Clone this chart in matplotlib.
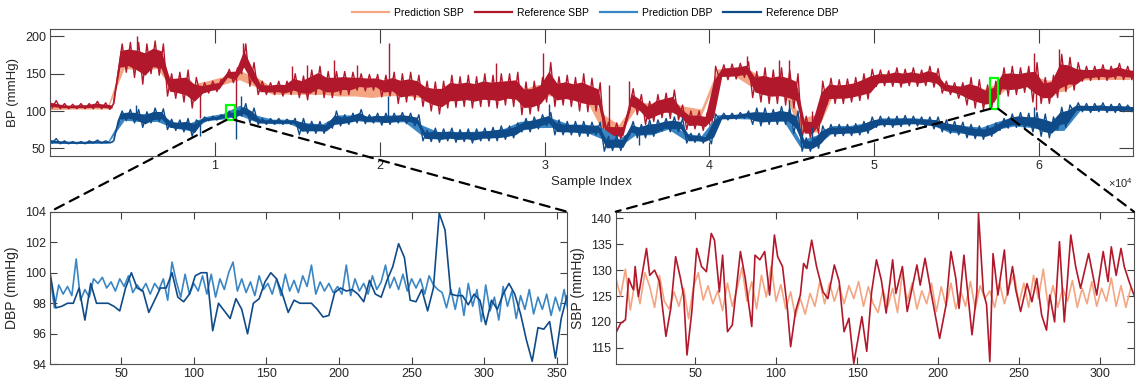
import numpy as np
import matplotlib.pyplot as plt
from matplotlib.lines import Line2D
from matplotlib.patches import Rectangle, ConnectionPatch

plt.rcParams['font.family'] = ['Liberation Sans', 'DejaVu Sans']
plt.rcParams['mathtext.fontset'] = 'custom'
plt.rcParams['mathtext.rm'] = 'Liberation Sans'

C_PRED_SBP = '#f4a582'
C_REF_SBP = '#b2182b'
C_PRED_DBP = '#3a86c4'
C_REF_DBP = '#104b89'

# ---- whole record: low / high of each trace per 500-sample column ----
COL = 500
ref_sbp_lo = [104, 103, 103, 103, 103, 103, 103, 102, 150, 152, 145, 136, 150, 148, 120, 117,
              112, 104, 120, 124, 126, 142, 138, 150, 133, 122, 122, 122, 120, 122, 118, 115,
              122, 118, 118, 122, 122, 128, 127, 128, 119, 120, 110, 112, 115, 106, 100, 96,
              104, 105, 106, 104, 106, 106, 104, 108, 106, 95, 96, 100, 112, 106, 108, 106,
              100, 99, 100, 60, 61, 62, 100, 95, 82, 86, 91, 90, 88, 75, 76, 74,
              72, 142, 142, 143, 145, 118, 112, 110, 110, 108, 104, 64, 64, 70, 109, 110,
              110, 112, 114, 116, 133, 134, 133, 132, 134, 133, 134, 132, 124, 122, 117, 108,
              104, 102, 104, 122, 120, 122, 125, 112, 110, 110, 118, 126, 128, 140, 141, 142,
              141, 143, 142, 142]
ref_sbp_hi = [114, 110, 109, 110, 110, 113, 111, 110, 190, 192, 192, 190, 194, 190, 150, 152,
              155, 145, 138, 140, 142, 156, 158, 190, 165, 140, 138, 140, 140, 150, 147, 155,
              160, 153, 153, 153, 152, 150, 149, 149, 148, 152, 150, 152, 148, 140, 139, 140,
              148, 146, 148, 146, 150, 148, 150, 150, 152, 139, 140, 145, 165, 146, 148, 145,
              150, 144, 138, 85, 84, 84, 130, 122, 113, 122, 124, 128, 108, 100, 100, 98,
              160, 162, 163, 164, 166, 153, 158, 155, 158, 155, 150, 93, 92, 140, 144, 142,
              143, 145, 150, 156, 155, 154, 158, 156, 158, 155, 160, 157, 140, 138, 138, 145,
              142, 135, 140, 158, 160, 158, 160, 165, 145, 148, 176, 172, 165, 160, 160, 162,
              160, 164, 160, 158]
ref_dbp_lo = [57, 56, 56, 56, 56, 57, 57, 57, 86, 87, 84, 78, 84, 86, 75, 74,
              72, 66, 84, 87, 88, 90, 90, 93, 84, 82, 82, 82, 82, 82, 68, 70,
              70, 70, 77, 80, 82, 84, 83, 84, 81, 82, 84, 83, 80, 60, 59, 58,
              60, 58, 59, 57, 60, 60, 60, 62, 64, 72, 72, 76, 80, 68, 68, 68,
              66, 66, 68, 46, 47, 47, 68, 64, 64, 66, 73, 72, 72, 57, 58, 57,
              56, 88, 88, 89, 90, 82, 80, 82, 82, 82, 70, 46, 46, 50, 66, 66,
              67, 67, 68, 70, 78, 79, 78, 79, 80, 80, 78, 76, 72, 70, 68, 64,
              63, 62, 66, 74, 77, 78, 76, 72, 66, 64, 75, 78, 98, 99, 98, 99,
              98, 98, 99, 99]
ref_dbp_hi = [63, 60, 59, 59, 60, 61, 60, 60, 100, 102, 102, 99, 104, 103, 89, 88,
              90, 88, 92, 93, 95, 100, 101, 110, 104, 90, 90, 90, 89, 90, 90, 86,
              86, 85, 100, 95, 97, 102, 95, 97, 97, 97, 98, 97, 95, 74, 77, 76,
              77, 75, 76, 76, 77, 78, 80, 80, 84, 90, 92, 95, 98, 88, 86, 86,
              86, 85, 85, 66, 67, 66, 86, 82, 88, 88, 90, 92, 90, 70, 70, 68,
              96, 97, 97, 98, 100, 104, 104, 102, 106, 104, 100, 64, 64, 80, 82, 82,
              82, 83, 86, 92, 93, 92, 93, 94, 93, 92, 92, 92, 88, 86, 85, 82,
              80, 80, 84, 90, 96, 98, 97, 98, 96, 92, 105, 108, 111, 110, 110, 111,
              109, 110, 108, 108]

# prediction traces, coarser 1000-sample columns
PCOL = 1000
pred_sbp_lo = [101, 102, 102, 102, 155, 152, 155, 124, 118, 128, 134, 140, 130, 121, 121, 120,
               120, 118, 118, 116, 118, 118, 116, 115, 114, 115, 116, 116, 112, 116, 118, 116,
               114, 70, 66, 100, 98, 100, 94, 92, 146, 146, 130, 124, 124, 70, 68, 120,
               120, 124, 140, 140, 140, 140, 125, 122, 116, 118, 136, 136, 122, 124, 140, 141,
               141, 141]
pred_sbp_hi = [108, 108, 108, 108, 175, 172, 172, 140, 138, 142, 148, 156, 148, 133, 134, 138,
               140, 136, 136, 134, 140, 138, 132, 130, 132, 134, 134, 136, 130, 138, 140, 136,
               132, 100, 84, 114, 112, 114, 108, 104, 158, 158, 158, 144, 146, 92, 100, 136,
               137, 142, 152, 152, 153, 152, 135, 134, 130, 140, 150, 150, 144, 146, 152, 152,
               152, 152]
pred_dbp_lo = [56, 56, 56, 56, 86, 84, 84, 76, 72, 86, 88, 92, 84, 82, 82, 72,
               72, 86, 86, 84, 84, 84, 66, 62, 62, 62, 62, 64, 72, 76, 76, 70,
               70, 60, 50, 66, 66, 74, 60, 58, 88, 89, 88, 84, 84, 50, 52, 70,
               70, 72, 82, 82, 82, 80, 70, 68, 66, 74, 78, 76, 72, 72, 100, 100,
               100, 100]
pred_dbp_hi = [61, 60, 60, 60, 100, 98, 100, 86, 86, 94, 98, 110, 96, 90, 90, 86,
               84, 96, 96, 94, 96, 96, 84, 74, 74, 74, 75, 78, 88, 90, 92, 84,
               84, 80, 64, 80, 84, 88, 72, 68, 96, 96, 98, 100, 102, 62, 70, 82,
               82, 86, 92, 92, 92, 90, 84, 82, 80, 88, 94, 92, 86, 88, 108, 108,
               108, 108]

# isolated single-beat excursions
sbp_spike_x = [5300, 9070, 11300, 11700, 14700, 15600, 17200, 18600, 20550, 27070,
               29900, 33900, 35100, 42300, 44200, 44800, 46200, 59700, 59800, 61200]
sbp_spike_y = [200, 91, 93, 191, 160, 162, 169, 162, 191, 164,
               178, 135, 140, 174, 169, 169, 100, 178, 102, 183]
dbp_spike_x = [5200, 9070, 11300, 11600, 20520, 30250, 35700, 44800, 46200, 59700]
dbp_spike_y = [108, 66, 62, 120, 120, 110, 55, 115, 78, 106]

X_END = 65700
win_dbp = (10700, 11200, 88, 108)     # x0, x1, y0, y1 of the highlighted boxes
win_sbp = (57040, 57520, 103, 144)

# ---- zoomed window 1: DBP ----
N_DBP = 357
dbp_ref = [100.0, 97.7, 97.8, 98.0, 98.0, 99.0, 96.9, 99.3, 98.0, 98.0, 98.0, 97.8, 97.5, 99.0,
           100.0, 99.0, 98.8, 97.4, 98.2, 99.0, 99.0, 100.0, 98.4, 98.1, 98.6, 99.8, 100.0, 100.0,
           96.2, 98.0, 97.5, 97.0, 98.3, 97.6, 96.0, 98.0, 98.3, 99.4, 100.0, 99.6, 98.6, 97.4,
           98.2, 98.0, 98.0, 98.0, 97.6, 97.1, 97.2, 98.7, 99.0, 98.8, 98.9, 98.6, 98.1, 99.5,
           98.6, 98.4, 99.5, 100.4, 101.9, 101.0, 98.2, 98.1, 98.9, 97.5, 99.0, 103.9, 102.8, 98.6,
           98.5, 98.5, 97.9, 98.6, 98.2, 96.6, 98.2, 97.6, 98.6, 99.3, 98.6, 97.3, 95.6, 94.2,
           96.4, 96.3, 96.8, 94.4, 97.0, 98.5]
dbp_pred = [99.8, 97.7, 99.2, 98.6, 99.1, 98.5, 100.9, 98.2, 98.9, 98.4, 99.6, 99.3, 99.7, 99.0,
            99.4, 98.8, 99.6, 99.1, 99.8, 98.7, 99.2, 98.8, 99.3, 98.6, 99.3, 98.9, 99.6, 98.2,
            100.7, 99.4, 98.4, 99.9, 98.6, 99.3, 98.8, 99.8, 98.6, 99.9, 98.4, 99.6, 98.9, 100.0,
            100.7, 98.8, 99.6, 98.7, 99.4, 98.5, 99.8, 98.9, 99.3, 98.6, 99.6, 98.5, 99.9, 98.8,
            99.5, 98.7, 99.8, 99.1, 100.5, 98.6, 99.4, 98.8, 99.3, 98.7, 99.1, 98.6, 100.5, 98.5,
            99.6, 98.8, 99.3, 98.6, 99.8, 98.9, 99.4, 100.5, 99.0, 99.7, 98.9, 99.9, 98.8, 99.6,
            99.0, 99.6, 98.6, 99.8, 99.2, 98.9, 98.7, 97.7, 98.9, 97.6, 99.0, 97.2, 99.3, 97.8,
            98.9, 96.8, 99.2, 97.5, 98.4, 96.9, 99.1, 97.8, 98.8, 97.0, 98.5, 97.6, 98.9, 97.3,
            98.4, 97.6, 98.6, 97.2, 98.4, 97.5, 98.9, 97.3]

# ---- zoomed window 2: SBP ----
N_SBP = 321
sbp_ref_x = [1, 4, 7, 9, 11, 12, 13, 15, 20, 22, 25, 28, 32, 35, 38, 41, 43, 45, 48, 51,
             54, 57, 60, 62, 65, 67, 70, 73, 78, 81, 85, 87, 90, 93, 96, 99, 101, 104, 107, 109,
             112, 115, 117, 119, 122, 125, 129, 132, 136, 139, 142, 145, 148, 153, 156, 159, 162, 165, 168, 172,
             174, 178, 181, 187, 189, 192, 196, 201, 205, 208, 211, 213, 216, 221, 224, 225, 228, 230, 232, 234,
             237, 241, 243, 246, 248, 251, 255, 258, 261, 264, 267, 269, 272, 275, 278, 282, 285, 288, 293, 298,
             302, 305, 307, 310, 313, 315, 318, 321]
sbp_ref = [117.8, 119.7, 120.4, 128.4, 126.8, 126.2, 130.7, 124.9, 134.2, 129.0, 130.0, 127.8, 117.2, 122.6,
           132.6, 128.4, 124.9, 113.6, 122.0, 134.2, 130.7, 129.7, 137.1, 135.8, 125.8, 132.9, 118.1, 119.4,
           133.6, 128.4, 119.1, 132.9, 132.0, 133.6, 125.2, 136.8, 132.6, 130.7, 122.6, 115.2, 122.0, 125.2,
           131.3, 130.3, 135.8, 130.7, 125.8, 124.5, 131.0, 127.8, 118.1, 120.7, 112.0, 121.0, 114.3, 125.8,
           132.0, 128.1, 121.7, 132.0, 125.5, 130.7, 122.0, 131.0, 127.1, 132.3, 125.2, 116.8, 123.3, 133.6,
           128.4, 122.6, 132.9, 117.5, 125.8, 141.0, 125.8, 123.3, 112.3, 133.2, 125.2, 133.9, 125.2, 130.7,
           126.2, 122.0, 127.4, 123.9, 128.4, 121.3, 118.4, 125.2, 120.0, 135.5, 120.0, 136.8, 130.7, 126.5,
           133.2, 125.2, 133.6, 127.8, 134.5, 129.0, 134.2, 130.7, 127.8, 125.2]
sbp_pred = [128.5, 125.0, 130.2, 122.3, 128.0, 123.5, 129.5, 126.8, 122.8, 129.0, 124.0, 122.5, 125.8, 123.0,
            126.5, 120.6, 126.8, 129.5, 124.2, 127.0, 123.5, 126.0, 122.2, 127.5, 123.0, 126.5, 130.5, 124.0,
            127.8, 122.5, 129.0, 124.8, 130.8, 124.0, 127.2, 122.5, 125.8, 121.0, 124.5, 121.5, 125.5, 123.0,
            127.8, 123.5, 127.5, 124.0, 127.0, 123.5, 127.0, 124.5, 127.8, 123.0, 126.8, 123.5, 121.8, 126.2,
            123.0, 126.5, 121.8, 129.5, 124.0, 127.5, 122.5, 126.0, 123.5, 127.5, 122.0, 126.8, 123.0, 127.5,
            122.5, 126.0, 123.0, 127.8, 122.5, 127.0, 124.5, 126.0, 122.8, 127.5, 123.5, 126.8, 129.2, 123.5,
            127.5, 122.8, 129.0, 124.5, 130.2, 123.0, 127.0, 122.8, 126.5, 124.0, 128.0, 122.8, 126.5, 123.5,
            127.8, 123.0, 126.5, 124.0, 128.5, 123.0, 127.0, 122.8, 126.5]


def draw_band(ax, lo, hi, step, color, z, pad_frac=0.22, zigzag=True, lw=1.0):
    """Dense beat-to-beat trace drawn from its per-column min/max:
    a solid core plus a zigzag reaching out to the extremes."""
    lo = np.asarray(lo, float)
    hi = np.asarray(hi, float)
    c = step * np.arange(len(lo)) + step / 2
    xf = c.copy()
    xf[0] = 0
    pad = pad_frac * (hi - lo)
    ax.fill_between(xf, lo + pad, hi - pad, color=color, lw=0, zorder=z)
    if zigzag:
        xs = np.column_stack([c - step / 4, c + step / 4]).ravel()
        ys = np.column_stack([lo, hi]).ravel()
        ax.plot(xs, ys, color=color, lw=lw, zorder=z)
    return c, (lo + hi) / 2


def style_axes(ax, ticklen, labelsize):
    ax.tick_params(direction='in', top=True, right=True, length=ticklen, width=0.8,
                   color='#404040', labelcolor='#262626', labelsize=labelsize, pad=3)
    for s in ax.spines.values():
        s.set_color('#505050')
        s.set_linewidth(0.8)


fig = plt.figure(figsize=(11.4, 3.89), dpi=100)
ax = fig.add_axes([0.0439, 0.5997, 0.9500, 0.3257])
ax_d = fig.add_axes([0.0439, 0.0635, 0.4535, 0.3923])
ax_s = fig.add_axes([0.5401, 0.0635, 0.4546, 0.3923])

# predictions are smoother, drawn as a plain band behind the references
draw_band(ax, pred_sbp_lo, pred_sbp_hi, PCOL, C_PRED_SBP, 2, pad_frac=0.12, zigzag=False)
c, mid_s = draw_band(ax, ref_sbp_lo, ref_sbp_hi, COL, C_REF_SBP, 3)
ax.vlines(sbp_spike_x, np.interp(sbp_spike_x, c, mid_s), sbp_spike_y, color=C_REF_SBP, lw=1.0, zorder=3)
draw_band(ax, pred_dbp_lo, pred_dbp_hi, PCOL, C_PRED_DBP, 4, pad_frac=0.12, zigzag=False)
c, mid_d = draw_band(ax, ref_dbp_lo, ref_dbp_hi, COL, C_REF_DBP, 5)
ax.vlines(dbp_spike_x, np.interp(dbp_spike_x, c, mid_d), dbp_spike_y, color=C_REF_DBP, lw=1.0, zorder=5)

for (x0, x1, y0, y1) in (win_dbp, win_sbp):
    ax.add_patch(Rectangle((x0, y0), x1 - x0, y1 - y0, fill=False, ec='#00ff00', lw=1.6, zorder=6))

ax.set_xlim(0, X_END)
ax.set_ylim(40, 210)
ax.set_xticks(np.arange(10000, 60001, 10000))
ax.set_xticklabels([str(k) for k in range(1, 7)])
ax.set_yticks([50, 100, 150, 200])
style_axes(ax, 10, 9)
ax.set_xlabel('Sample Index', fontsize=9.5, color='#262626', labelpad=3)
ax.set_ylabel('BP (mmHg)', fontsize=9.5, color='#262626', labelpad=4)
ax.text(1.0, -0.16, r'$\times10^{4}$', transform=ax.transAxes, ha='right', va='top',
        fontsize=8, color='#262626')

# zoomed DBP window
xd_pred = 1 + 3 * np.arange(len(dbp_pred))
xd_ref = 1 + 4 * np.arange(len(dbp_ref))
ax_d.plot(xd_pred, dbp_pred, color=C_PRED_DBP, lw=1.2)
ax_d.plot(xd_ref, dbp_ref, color=C_REF_DBP, lw=1.2)
ax_d.set_xlim(1, N_DBP)
ax_d.set_ylim(94, 104)
ax_d.set_xticks(np.arange(50, 351, 50))
ax_d.set_yticks(np.arange(94, 105, 2))
style_axes(ax_d, 5, 9)
ax_d.set_ylabel('DBP (mmHg)', fontsize=10, color='#262626', labelpad=4)

# zoomed SBP window
xs_pred = 1 + 3 * np.arange(len(sbp_pred))
ax_s.plot(xs_pred, sbp_pred, color=C_PRED_SBP, lw=1.2)
ax_s.plot(sbp_ref_x, sbp_ref, color=C_REF_SBP, lw=1.2)
ax_s.set_xlim(1, N_SBP)
ax_s.set_ylim(111.8, 141.3)
ax_s.set_xticks(np.arange(50, 301, 50))
ax_s.set_yticks(np.arange(115, 141, 5))
style_axes(ax_s, 5, 9)
ax_s.set_ylabel('SBP (mmHg)', fontsize=10, color='#262626', labelpad=4)

# dashed leaders from the boxes to the zoomed panels
dash = dict(color='black', lw=1.6, linestyle=(0, (4.5, 3)), zorder=10)
for (x0, x1, y0, y1), target in ((win_dbp, ax_d), (win_sbp, ax_s)):
    for xa, xb in ((x0, 0), (x1, 1)):
        con = ConnectionPatch(xyA=(xa, y0), coordsA='data', axesA=ax,
                              xyB=(xb, 1), coordsB='axes fraction', axesB=target, **dash)
        fig.add_artist(con)

handles = [Line2D([], [], color=col, lw=1.6)
           for col in (C_PRED_SBP, C_REF_SBP, C_PRED_DBP, C_REF_DBP)]
labels = ['Prediction SBP', 'Reference SBP', 'Prediction DBP', 'Reference DBP']
fig.legend(handles, labels, loc='center', bbox_to_anchor=(0.522, 0.967), ncol=4,
           frameon=False, fontsize=7.5, handlelength=3.6, columnspacing=1.0,
           handletextpad=0.5)

fig.savefig('out.png', dpi=100)
